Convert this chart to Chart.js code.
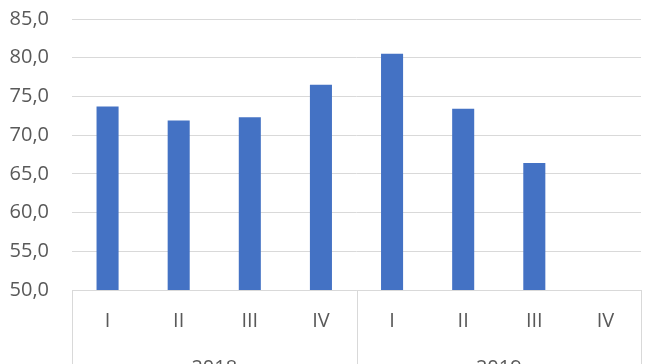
<!DOCTYPE html>
<html>
<head>
<meta charset="utf-8">
<script src="https://cdn.jsdelivr.net/npm/chart.js@4/dist/chart.umd.min.js"></script>
<style>
  html, body { margin: 0; padding: 0; background: #fff; }
  #wrap { width: 648px; height: 364px; position: relative; }
</style>
</head>
<body>
<div id="wrap"><canvas id="c" width="648" height="364"></canvas></div>
<script>
const quarters = ['I', 'II', 'III', 'IV', 'I', 'II', 'III', 'IV'];
const years = ['2018', '2019'];
const values = [73.7, 71.9, 72.3, 76.5, 80.5, 73.4, 66.4, null];
const yMin = 50, yMax = 85, yStep = 5;

const FONT = "'Open Sans', 'Liberation Sans', sans-serif";
const TXT = '#595959';
const LINE = '#d9d9d9';

const groupLines = {
  id: 'groupLines',
  afterDraw(chart) {
    const ctx = chart.ctx;
    const a = chart.chartArea;
    const x = chart.scales.x;
    const n = quarters.length;
    const per = n / years.length;
    const w = (a.right - a.left) / n;
    ctx.save();
    ctx.strokeStyle = LINE;
    ctx.lineWidth = 1;
    ctx.beginPath();
    ctx.moveTo(a.left, a.bottom + 0.5);
    ctx.lineTo(a.right, a.bottom + 0.5);
    for (let g = 0; g <= years.length; g++) {
      const px = Math.round(x.getPixelForValue(g * per) - w / 2) + 0.5;
      ctx.moveTo(px, a.bottom);
      ctx.lineTo(px, chart.height);
    }
    ctx.stroke();
    ctx.restore();
  }
};

new Chart(document.getElementById('c'), {
  type: 'bar',
  data: {
    labels: quarters,
    datasets: [{
      data: values,
      backgroundColor: '#4472c4',
      barPercentage: 0.31,
      categoryPercentage: 1.0
    }]
  },
  options: {
    responsive: false,
    animation: false,
    layout: { padding: { top: 19, right: 7, left: 0, bottom: 0 } },
    plugins: { legend: { display: false }, tooltip: { enabled: false } },
    scales: {
      y: {
        min: yMin, max: yMax,
        ticks: {
          stepSize: yStep,
          color: TXT,
          font: { family: FONT, size: 20 },
          padding: 23,
          callback: v => v.toFixed(1).replace('.', ',')
        },
        grid: { color: LINE, drawTicks: false },
        border: { display: false },
        afterFit(s) { s.width = 72; s.paddingTop = 0; s.paddingBottom = 0; }
      },
      x: {
        ticks: { color: TXT, font: { family: FONT, size: 20 }, padding: 19 },
        grid: { display: false, drawTicks: false },
        border: { display: false },
        afterFit(s) { s.height = 46; s.paddingLeft = 0; s.paddingRight = 0; }
      },
      x2: {
        type: 'category',
        labels: years,
        position: 'bottom',
        ticks: { color: TXT, font: { family: FONT, size: 20 }, padding: 20 },
        grid: { display: false, drawTicks: false },
        border: { display: false },
        afterFit(s) { s.height = 28; s.paddingLeft = 0; s.paddingRight = 0; }
      }
    }
  },
  plugins: [groupLines]
});
</script>
</body>
</html>
